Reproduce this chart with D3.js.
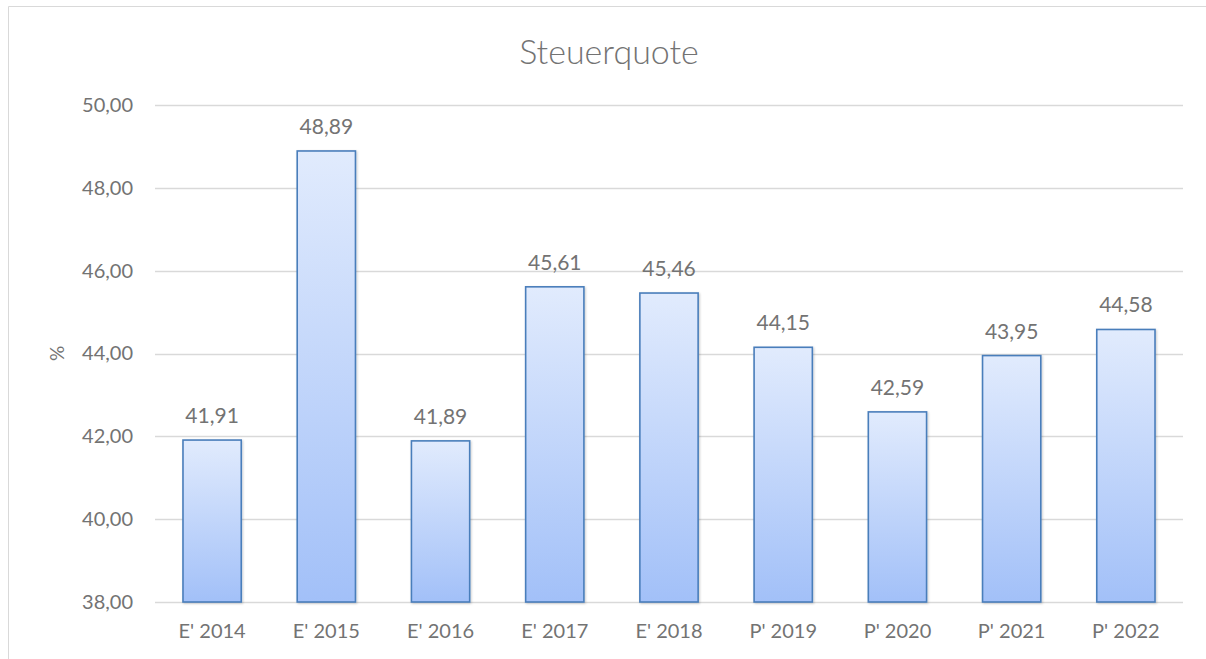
<!DOCTYPE html>
<html>
<head>
<meta charset="utf-8">
<script src="https://cdn.jsdelivr.net/npm/d3@7"></script>
<style>
  body { margin: 0; background: #fff; }
  svg { display: block; font-family: Lato, "Open Sans", sans-serif; }
</style>
</head>
<body>
<svg id="chart"></svg>
<script>
// chart data
var categories = ["E' 2014", "E' 2015", "E' 2016", "E' 2017", "E' 2018", "P' 2019", "P' 2020", "P' 2021", "P' 2022"];
var values = [41.91, 48.89, 41.89, 45.61, 45.46, 44.15, 42.59, 43.95, 44.58];
var yTicks = [38, 40, 42, 44, 46, 48, 50];

var svgWidth = 1206, svgHeight = 659;
var margin = {top: 105, right: 23, bottom: 57, left: 155};
var width = svgWidth - margin.left - margin.right;
var height = svgHeight - margin.top - margin.bottom;
var textColor = '#737373';

var fmt = function(v) { return d3.format(".2f")(v).replace('.', ','); };

var svg = d3.select('#chart')
    .attr('width', svgWidth)
    .attr('height', svgHeight);

var defs = svg.append('defs');
var grad = defs.append('linearGradient')
    .attr('id', 'barGrad')
    .attr('x1', 0).attr('y1', 0).attr('x2', 0).attr('y2', 1);
grad.append('stop').attr('offset', '0%').attr('stop-color', '#e1ebfd');
grad.append('stop').attr('offset', '100%').attr('stop-color', '#a2c0f8');

var shadow = defs.append('filter').attr('id', 'shadow')
    .attr('x', '-20%').attr('y', '-10%').attr('width', '140%').attr('height', '120%');
shadow.append('feDropShadow')
    .attr('dx', 1).attr('dy', 1).attr('stdDeviation', 1.2)
    .attr('flood-color', '#000').attr('flood-opacity', 0.2);

// outer chart frame (cut off at right and bottom)
svg.append('path')
    .attr('d', 'M8.5,' + svgHeight + ' V6.5 H' + svgWidth)
    .attr('fill', 'none')
    .attr('stroke', '#d9d9d9')
    .attr('stroke-width', 1);

svg.append('text')
    .attr('x', 609)
    .attr('y', 64)
    .attr('text-anchor', 'middle')
    .attr('fill', textColor)
    .attr('font-size', 34)
    .attr('font-weight', 300)
    .text('Steuerquote');

var g = svg.append('g')
    .attr('transform', 'translate(' + margin.left + ',' + margin.top + ')');

var x = d3.scaleBand()
    .domain(categories)
    .range([0, width])
    .paddingInner(0.49)
    .paddingOuter(0.245);

var y = d3.scaleLinear()
    .domain([38, 50])
    .range([height, 0]);

// gridlines
g.append('g')
    .selectAll('line')
    .data(yTicks)
    .enter().append('line')
    .attr('x1', 0).attr('x2', width)
    .attr('y1', function(d) { return Math.round(y(d)) + 0.5; })
    .attr('y2', function(d) { return Math.round(y(d)) + 0.5; })
    .attr('stroke', '#d9d9d9')
    .attr('stroke-width', 1.3);

// y axis
var yAxis = g.append('g')
    .call(d3.axisLeft(y).tickValues(yTicks).tickFormat(fmt).tickSize(0).tickPadding(22));
yAxis.select('.domain').remove();
yAxis.selectAll('text')
    .attr('fill', textColor)
    .attr('font-size', 20)
    .attr('font-family', 'Lato, "Open Sans", sans-serif');

// x axis
var xAxis = g.append('g')
    .attr('transform', 'translate(0,' + height + ')')
    .call(d3.axisBottom(x).tickSize(0).tickPadding(22));
xAxis.select('.domain').remove();
xAxis.selectAll('text')
    .attr('fill', textColor)
    .attr('font-size', 20)
    .attr('font-family', 'Lato, "Open Sans", sans-serif');

// axis title
svg.append('text')
    .attr('transform', 'translate(64,' + (margin.top + y(44)) + ') rotate(-90)')
    .attr('text-anchor', 'middle')
    .attr('fill', textColor)
    .attr('font-size', 19)
    .text('%');

// bars
g.selectAll('.bar')
    .data(values)
    .enter().append('rect')
    .attr('class', 'bar')
    .attr('x', function(d, i) { return x(categories[i]); })
    .attr('y', function(d) { return y(d); })
    .attr('width', x.bandwidth())
    .attr('height', function(d) { return height - y(d); })
    .attr('fill', 'url(#barGrad)')
    .attr('stroke', '#4a7ebb')
    .attr('stroke-width', 1.6)
    .attr('filter', 'url(#shadow)');

// value labels
g.selectAll('.label')
    .data(values)
    .enter().append('text')
    .attr('class', 'label')
    .attr('x', function(d, i) { return x(categories[i]) + x.bandwidth() / 2; })
    .attr('y', function(d) { return y(d) - 17; })
    .attr('text-anchor', 'middle')
    .attr('fill', textColor)
    .attr('font-size', 21)
    .text(fmt);
</script>
</body>
</html>
